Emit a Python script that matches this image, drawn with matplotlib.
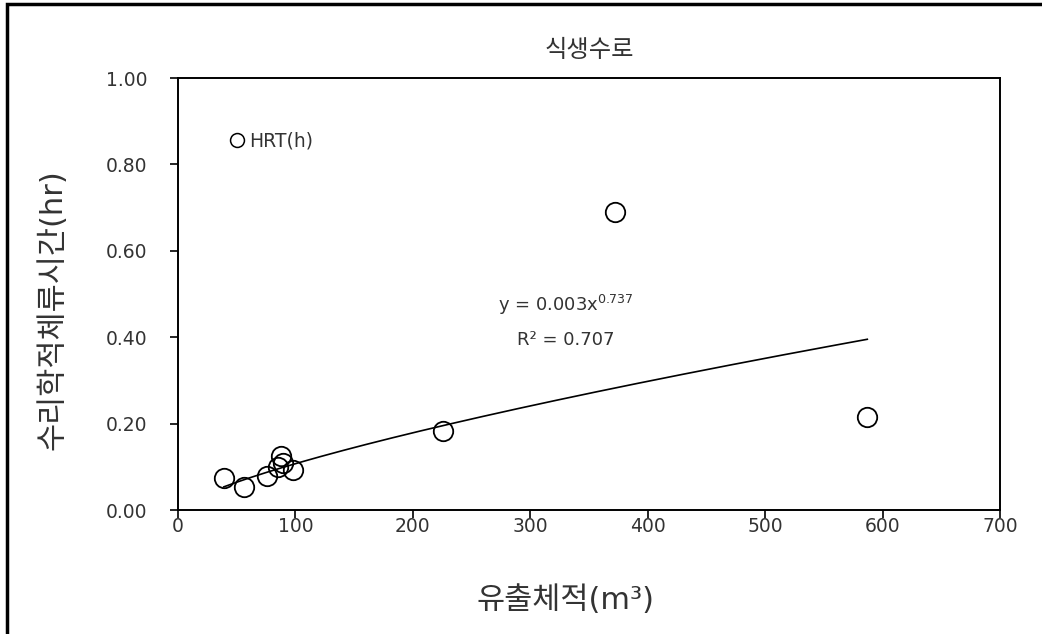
import matplotlib
matplotlib.use("Agg")
import numpy as np
import matplotlib.pyplot as plt
from matplotlib.patches import Rectangle
from matplotlib.lines import Line2D

plt.rcParams['font.family'] = ['DejaVu Sans', 'Noto Sans CJK KR']

# data
volume = [39, 56, 76, 85, 88, 89, 98, 226, 372, 587]          # 유출체적 (m3)
hrt = [0.075, 0.053, 0.078, 0.100, 0.124, 0.108, 0.092, 0.183, 0.690, 0.215]

# power trendline shown on chart
fit_a = 0.0036
fit_b = 0.737
eq_text = "y = 0.003x$^{0.737}$"
r2_text = "R² = 0.707"

xticks = [0, 100, 200, 300, 400, 500, 600, 700]
yticks = [0.0, 0.2, 0.4, 0.6, 0.8, 1.0]

txt = '#333333'

fig = plt.figure(figsize=(10.42, 6.34), dpi=100)
ax = fig.add_axes([178 / 1042, 1 - 510 / 634, (1000 - 178) / 1042, (510 - 78) / 634])

ax.plot(volume, hrt, linestyle='none', marker='o', markersize=14,
        markerfacecolor='none', markeredgecolor='black', markeredgewidth=1.3)

xf = np.linspace(min(volume), max(volume), 200)
ax.plot(xf, fit_a * xf ** fit_b, color='black', linewidth=1.2)

ax.set_xlim(0, 700)
ax.set_ylim(0, 1.0)
ax.set_xticks(xticks)
ax.set_yticks(yticks)
ax.set_yticklabels(["%.2f" % v for v in yticks])
ax.tick_params(direction='out', length=6, width=1.2, labelsize=13.5, colors='black',
               labelcolor=txt)
ax.tick_params(axis='x', pad=-1)
ax.tick_params(axis='y', pad=16)
for s in ax.spines.values():
    s.set_linewidth(1.4)

ax.set_title("식생수로", fontsize=17.5, pad=15, color=txt)
ax.set_xlabel("유출체적(m³)", fontsize=22, color=txt)
ax.set_ylabel("수리학적체류시간(hr)", fontsize=22, color=txt)
ax.xaxis.set_label_coords(0.471, -0.208)
ax.xaxis.label.set_va('center')
ax.yaxis.set_label_coords(-0.152, 0.463)
ax.yaxis.label.set_va('center')

ax.text(330, 0.475, eq_text, fontsize=13, ha='center', va='center', color=txt)
ax.text(330, 0.394, r2_text, fontsize=13, ha='center', va='center', color=txt)

handle = Line2D([], [], linestyle='none', marker='o', markersize=10,
                markerfacecolor='none', markeredgecolor='black', markeredgewidth=1.1)
ax.legend([handle], ["HRT(h)"], loc='upper left', bbox_to_anchor=(0.037, 0.915),
          frameon=False, fontsize=13.5, handletextpad=0.05, handlelength=1.2,
          labelcolor=txt)

# outer frame (cropped at right and bottom)
fig.patches.append(Rectangle((7 / 1042, -0.1), 1.2, 1 - 4 / 634 + 0.1, transform=fig.transFigure,
                             fill=False, edgecolor='black', linewidth=2.5))

fig.savefig("out.png", dpi=100)
